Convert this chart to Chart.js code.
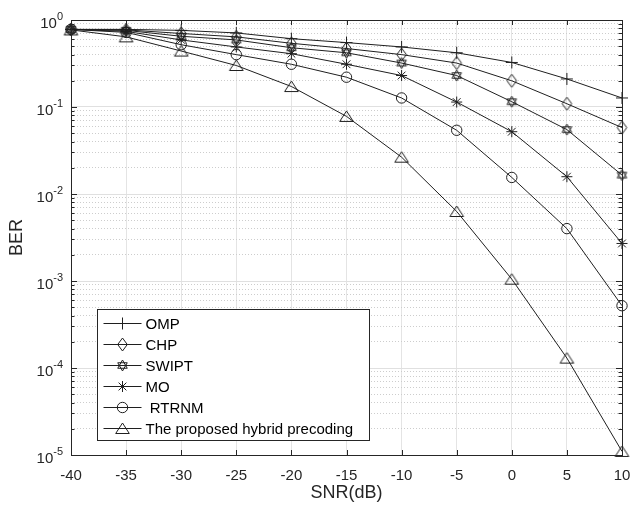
<!DOCTYPE html>
<html lang="en">
<head>
<meta charset="UTF-8" />
<title>BER vs SNR</title>
<script src="https://cdn.jsdelivr.net/npm/chart.js"></script>
<style>
  html, body { margin: 0; padding: 0; background: #fff; }
  #wrap { width: 632px; height: 509px; }
</style>
</head>
<body>
<div id="wrap"><canvas id="berChart" width="632" height="509"></canvas></div>
<script>
// values
const snr = [-40, -35, -30, -25, -20, -15, -10, -5, 0, 5, 10];
const omp = [0.78, 0.78, 0.76, 0.71, 0.61, 0.55, 0.49, 0.42, 0.325, 0.21, 0.127];
const chp = [0.78, 0.77, 0.70, 0.64, 0.54, 0.47, 0.40, 0.32, 0.20, 0.109, 0.058];
const swipt = [0.78, 0.76, 0.65, 0.59, 0.48, 0.42, 0.32, 0.23, 0.115, 0.055, 0.0165];
const mo = [0.78, 0.74, 0.59, 0.49, 0.41, 0.31, 0.23, 0.114, 0.052, 0.0158, 0.0027];
const rtrnm = [0.78, 0.72, 0.52, 0.40, 0.31, 0.22, 0.127, 0.054, 0.0155, 0.0040, 0.00052];
const proposed = [0.77, 0.64, 0.44, 0.30, 0.172, 0.078, 0.0265, 0.0063, 0.00105, 0.00013, 0.000011];

const seriesLabels = ['OMP', 'CHP', 'SWIPT', 'MO', ' RTRNM', 'The proposed hybrid precoding'];
const yExps = [-5, -4, -3, -2, -1, 0];
const yMinor = [1, 2, 3, 4, 5, 6, 7, 8, 9];

const FONT = "'Liberation Sans', Arial, Helvetica, sans-serif";
const INK = '#262626';
const LINE = '#1f1f1f';

// small canvases for the MATLAB-like markers Chart.js has no style for
function marker(w, h, draw) {
  const c = document.createElement('canvas');
  c.width = w; c.height = h;
  const g = c.getContext('2d');
  g.strokeStyle = LINE;
  g.lineWidth = 1;
  draw(g, w / 2, h / 2);
  return c;
}

const diamond = marker(13, 15, (g, cx, cy) => {
  g.beginPath();
  g.moveTo(cx, cy - 6.5); g.lineTo(cx + 4.8, cy);
  g.lineTo(cx, cy + 6.5); g.lineTo(cx - 4.8, cy);
  g.closePath(); g.stroke();
});

const hexagram = marker(15, 15, (g, cx, cy) => {
  const r = 5.5;
  [-90, 90].forEach(a0 => {
    g.beginPath();
    for (let k = 0; k < 3; k++) {
      const a = (a0 + k * 120) * Math.PI / 180;
      const px = cx + r * Math.cos(a), py = cy + r * Math.sin(a);
      k ? g.lineTo(px, py) : g.moveTo(px, py);
    }
    g.closePath(); g.stroke();
  });
});

const triangle = marker(17, 15, (g, cx, cy) => {
  g.beginPath();
  g.moveTo(cx, cy - 5.5); g.lineTo(cx + 6.8, cy + 5);
  g.lineTo(cx - 6.8, cy + 5);
  g.closePath(); g.stroke();
});

const seriesData = [omp, chp, swipt, mo, rtrnm, proposed];
const seriesStyles = ['cross', diamond, hexagram, 'star', 'circle', triangle];
const seriesRadius = [6, 6, 6, 5.5, 5.2, 6];

function isDecade(v) {
  const l = Math.log10(v);
  return Math.abs(l - Math.round(l)) < 1e-9;
}

const yTickValues = [];
yExps.forEach(e => {
  yMinor.forEach(m => {
    const v = m * Math.pow(10, e);
    if (v <= 1 + 1e-12) yTickValues.push(v);
  });
});

const frame = {
  id: 'frame',
  afterDraw(chart) {
    const { ctx, chartArea: a, scales } = chart;
    ctx.save();
    ctx.strokeStyle = INK;
    ctx.lineWidth = 1;

    // inner ticks
    ctx.beginPath();
    scales.x.ticks.forEach(t => {
      const x = Math.round(scales.x.getPixelForValue(t.value)) + 0.5;
      ctx.moveTo(x, a.bottom); ctx.lineTo(x, a.bottom - 5);
      ctx.moveTo(x, a.top); ctx.lineTo(x, a.top + 5);
    });
    scales.y.ticks.forEach(t => {
      const y = Math.round(scales.y.getPixelForValue(t.value)) + 0.5;
      const len = isDecade(t.value) ? 6 : 3.5;
      ctx.moveTo(a.left, y); ctx.lineTo(a.left + len, y);
      ctx.moveTo(a.right, y); ctx.lineTo(a.right - len, y);
    });
    ctx.stroke();

    // box
    ctx.strokeRect(Math.round(a.left) + 0.5, Math.round(a.top) + 0.5,
      Math.round(a.right - a.left), Math.round(a.bottom - a.top));

    // y labels as 10 with raised exponent
    ctx.fillStyle = INK;
    ctx.textBaseline = 'alphabetic';
    ctx.textAlign = 'left';
    yExps.forEach(e => {
      const y = scales.y.getPixelForValue(Math.pow(10, e));
      const ex = String(e);
      ctx.font = '11px ' + FONT;
      const ew = ctx.measureText(ex).width;
      ctx.font = '15px ' + FONT;
      const bw = ctx.measureText('10').width;
      const right = a.left - 8;
      ctx.fillText('10', right - ew - bw, y + 8);
      ctx.font = '11px ' + FONT;
      ctx.fillText(ex, right - ew, y);
    });

    // legend box in lower left
    const lx = Math.round(a.left) + 26.5, ly = Math.round(a.bottom) - 145.5;
    const lw = 272, lh = 131;
    ctx.fillStyle = '#fff';
    ctx.fillRect(lx, ly, lw, lh);
    ctx.strokeRect(lx, ly, lw, lh);
    ctx.font = '15px ' + FONT;
    ctx.textBaseline = 'middle';
    chart.data.datasets.forEach((ds, i) => {
      const y = Math.round(ly + 13.5 + i * 21) + 0.5;
      ctx.strokeStyle = LINE;
      ctx.beginPath();
      ctx.moveTo(lx + 6, y); ctx.lineTo(lx + 44, y);
      ctx.stroke();
      ctx.fillStyle = 'rgba(0,0,0,0)';
      Chart.helpers.drawPoint(ctx, {
        pointStyle: ds.pointStyle, radius: ds.pointRadius, rotation: 0, borderWidth: 1
      }, lx + 25, y);
      ctx.fillStyle = '#000';
      ctx.fillText(ds.label, lx + 48, y + 1);
    });
    ctx.restore();
  }
};

const datasets = seriesLabels.map((label, i) => ({
  label,
  data: seriesData[i].map((v, k) => ({ x: snr[k], y: v })),
  borderColor: LINE,
  borderWidth: 1,
  pointStyle: seriesStyles[i],
  pointRadius: seriesRadius[i],
  pointBorderColor: LINE,
  pointBackgroundColor: 'rgba(0,0,0,0)',
  pointBorderWidth: 1,
  tension: 0,
  clip: false
}));

new Chart(document.getElementById('berChart'), {
  type: 'line',
  data: { datasets },
  plugins: [frame],
  options: {
    responsive: false,
    animation: false,
    layout: { padding: { left: 0, right: 10, top: 20, bottom: 0 } },
    plugins: { legend: { display: false }, tooltip: { enabled: false } },
    scales: {
      x: {
        type: 'linear',
        min: -40, max: 10,
        afterFit: s => { s.height = 54; s.paddingLeft = 0; s.paddingRight = 0; },
        ticks: { stepSize: 5, color: INK, padding: 12, font: { family: FONT, size: 15 } },
        grid: { color: '#e4e4e4', drawTicks: false },
        border: { display: false },
        title: { display: true, text: 'SNR(dB)', color: INK, font: { family: FONT, size: 18 }, padding: { top: 0, bottom: 5 } }
      },
      y: {
        type: 'logarithmic',
        min: 1e-5, max: 1,
        afterFit: s => { s.width = 71; s.paddingTop = 0; s.paddingBottom = 0; },
        afterBuildTicks: s => { s.ticks = yTickValues.map(v => ({ value: v, major: isDecade(v) })); },
        ticks: { display: false, autoSkip: false },
        grid: {
          drawTicks: false,
          color: c => (c.tick && isDecade(c.tick.value)) ? '#e0e0e0' : '#cdcdcd'
        },
        border: {
          display: false,
          dash: c => (c.tick && isDecade(c.tick.value)) ? [] : [1, 2]
        },
        title: { display: true, text: 'BER', color: INK, font: { family: FONT, size: 18 }, padding: { top: 6, bottom: 0 } }
      }
    }
  }
});
</script>
</body>
</html>
